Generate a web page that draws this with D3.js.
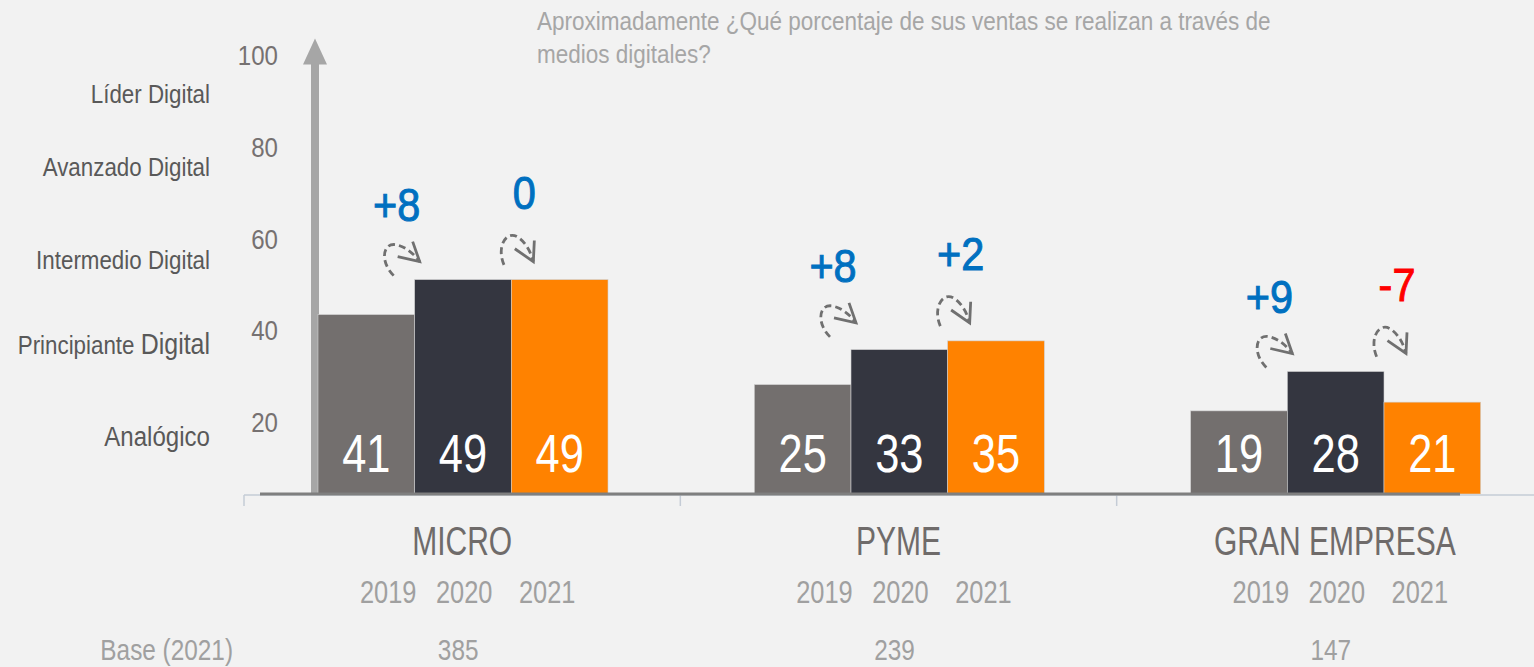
<!DOCTYPE html>
<html><head><meta charset="utf-8">
<script src="https://cdn.jsdelivr.net/npm/d3@7"></script>
<style>
html,body{margin:0;padding:0;background:#f2f2f2;}
svg{display:block;font-family:"Liberation Sans",Arial,sans-serif;}
</style></head>
<body><svg id="c" width="1534" height="667"></svg>
<script>
const categories = ["MICRO","PYME","GRAN EMPRESA"];
const years = ["2019","2020","2021"];
const values2019 = [41,25,19];
const values2020 = [49,33,28];
const values2021 = [49,35,21];
const bases = [385,239,147];
const tickValues = [20,40,60,80,100];
const levels = ["Analógico","Principiante Digital","Intermedio Digital","Avanzado Digital","Líder Digital"];
const titleLines = ["Aproximadamente ¿Qué porcentaje de sus ventas se realizan a través de","medios digitales?"];
const baseLabel = "Base (2021)";

const series = [values2019, values2020, values2021];
const colors = ["#736f6e","#343640","#ff8200"];

const svg = d3.select("#c");
svg.append("rect").attr("width",1534).attr("height",667).attr("fill","#f2f2f2");

// condensed text placement helper
function place(sel, xf, yf, k){
  sel.attr("transform",(d,i)=>`translate(${typeof xf==="function"?xf(d,i):xf},${typeof yf==="function"?yf(d,i):yf}) scale(${k},1)`);
  return sel;
}

const x0 = d3.scaleBand().domain(categories).range([244,1553]);
const x1 = d3.scaleBand().domain(years).range([74,364]);
const y = d3.scaleLinear().domain([0,100]).range([494,494-437.5]);
const yTick = d3.scaleLinear().domain([20,100]).range([422,55]);
const yLevel = d3.scaleOrdinal().domain(levels).range([436,345,260,167,94]);

// title
place(svg.append("g").selectAll("text").data(titleLines).join("text"), 537, (d,i)=>30+i*33, 0.9)
  .attr("fill","#a6a6a6").attr("font-size",25).text(d=>d);

// tick labels
place(svg.append("g").selectAll("text").data(tickValues).join("text"), 278, d=>yTick(d), 0.86)
  .attr("dy","0.36em").attr("text-anchor","end")
  .attr("fill","#767171").attr("font-size",28).text(d=>d);

// level labels
const lv = place(svg.append("g").selectAll("text").data(levels).join("text"), 210, d=>yLevel(d), 0.86)
  .attr("dy","0.36em").attr("text-anchor","end")
  .attr("fill","#595959").attr("font-size",d=>d===levels[0]?28:26);
lv.each(function(d){
  const t = d3.select(this);
  if(d===levels[1]){
    const parts = d.split(" ");
    t.append("tspan").text(parts[0]+" ");
    t.append("tspan").attr("font-size",29).text(parts.slice(1).join(" "));
  } else t.text(d);
});

// axis line (light) with group ticks
const axisG = svg.append("g");
axisG.append("line").attr("x1",244).attr("x2",1534).attr("y1",495).attr("y2",495)
  .attr("stroke","#c5ccd6").attr("stroke-width",1.5);
axisG.selectAll("line.tk").data(categories).join("line").attr("class","tk")
  .attr("x1",d=>x0(d)).attr("x2",d=>x0(d)).attr("y1",495).attr("y2",506)
  .attr("stroke","#c5ccd6").attr("stroke-width",1.5);

// vertical arrow axis
svg.append("line").attr("x1",315).attr("x2",315).attr("y1",y(100)+6).attr("y2",y(0))
  .attr("stroke","#a6a6a6").attr("stroke-width",8);
svg.append("path").attr("d",`M303,${y(100)+8} L315,${y(100)-18} L327,${y(100)+8} Z`).attr("fill","#a6a6a6");

// bars
const groups = svg.append("g").selectAll("g").data(categories).join("g")
  .attr("transform",d=>`translate(${x0(d)},0)`);
const barData = (c,ci)=>years.map((yr,si)=>({yr,si,v:series[si][ci]}));
groups.selectAll("rect").data(barData).join("rect")
  .attr("x",d=>x1(d.yr)).attr("width",x1.bandwidth())
  .attr("y",d=>y(d.v)).attr("height",d=>y(0)-y(d.v))
  .attr("fill",d=>colors[d.si]).attr("stroke","#d0d0d0").attr("stroke-width",0.6);
place(groups.selectAll("text.val").data(barData).join("text").attr("class","val"),
      d=>x1(d.yr)+x1.bandwidth()/2, 472, 0.82)
  .attr("text-anchor","middle").attr("fill","#ffffff").attr("font-size",53).text(d=>d.v);

// dark baseline
svg.append("line").attr("x1",260).attr("x2",1460).attr("y1",494).attr("y2",494)
  .attr("stroke","#7f7f7f").attr("stroke-width",3);

// category labels
place(groups.append("text"), x0.bandwidth()/2, 555, 0.75).attr("text-anchor","middle")
  .attr("fill","#6f6b6a").attr("font-size",40).text(d=>d);
const yrOff = [-74,2,85];
place(groups.selectAll("text.yr").data(years).join("text").attr("class","yr"),
      (d,i)=>x0.bandwidth()/2+yrOff[i], 603, 0.82)
  .attr("text-anchor","middle").attr("fill","#a0a0a0").attr("font-size",31).text(d=>d);
place(groups.append("text"), x0.bandwidth()/2-4, 660, 0.84).attr("text-anchor","middle")
  .attr("fill","#a0a0a0").attr("font-size",29).text((d,i)=>bases[i]);
place(svg.append("text"), 233, 660, 0.84).attr("text-anchor","end")
  .attr("fill","#a0a0a0").attr("font-size",29).text(baseLabel);

// change annotations
const changes = [];
categories.forEach((c,ci)=>{
  const top = y(d3.max(series,s=>s[ci]));
  for(let p=0;p<2;p++){
    const diff = series[p+1][ci]-series[p][ci];
    const bx = x0(c)+x1(years[p+1]);
    changes.push({ci,p,diff,top,tipX:bx+(p===0?5:22),tipY:top-18});
  }
});
const ann = svg.append("g").selectAll("g").data(changes).join("g")
  .attr("transform",d=>`translate(${d.tipX},${d.tipY})`);
const arr = ann.append("g").attr("transform",d=>d.p===1?"rotate(22)":"");
arr.append("path").attr("d","M -26 14 C -40 0, -37 -19, -24 -17 C -14 -15, -6 -8, 0 0")
  .attr("fill","none").attr("stroke","#707070").attr("stroke-width",2.8).attr("stroke-dasharray","7,4");
arr.append("path").attr("d","M -7 -20 L 0 0 L -22 -5")
  .attr("fill","none").attr("stroke","#707070").attr("stroke-width",2.8);
place(ann.append("text"), d=>d.p===0?-23:-9, d=>d.p===0?-57:-69, 0.9).attr("dy","0.36em")
  .attr("text-anchor","middle").attr("font-size",46)
  .attr("fill",d=>d.diff<0?"#ff0000":"#0070c0")
  .attr("stroke",d=>d.diff<0?"#ff0000":"#0070c0").attr("stroke-width",1)
  .text(d=>d.diff>0?"+"+d.diff:String(d.diff));
</script></body></html>
